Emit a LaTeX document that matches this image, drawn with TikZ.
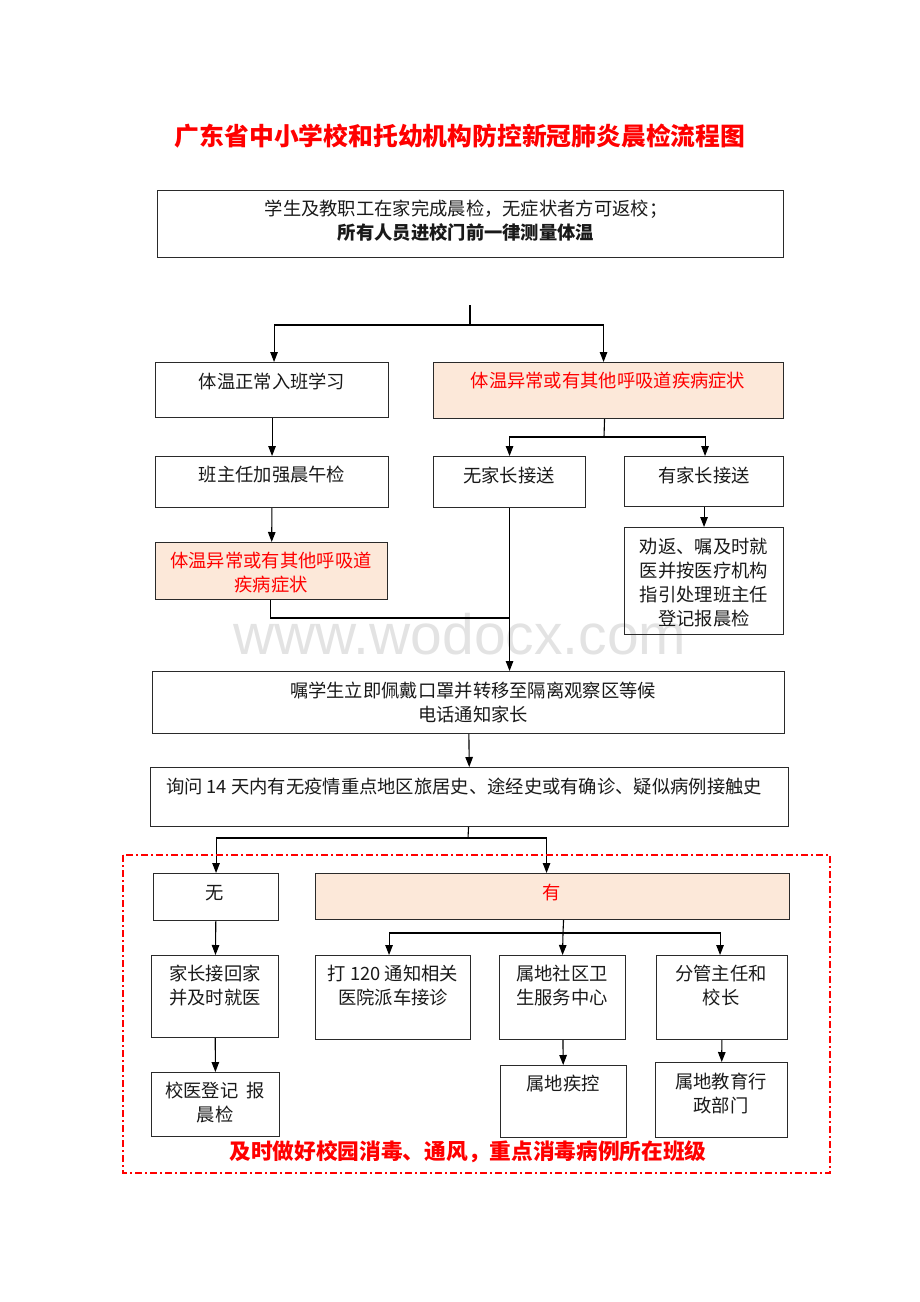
\documentclass[tikz,border=0pt]{standalone}
\usepackage{fontspec}
\setmainfont{Noto Sans CJK SC}
\newfontfamily\wmfont{Liberation Sans}
\usetikzlibrary{arrows.meta}

\definecolor{peach}{HTML}{FCE8D9}
\definecolor{edge}{HTML}{2A2A2A}

\tikzset{
  box/.style={draw=edge, line width=1.1pt, inner sep=0pt, anchor=north west},
  warn/.style={box, fill=peach},
  txt/.style={font=\fontsize{18.3}{24}\selectfont, align=center, inner sep=0pt, text=black!90},
  redtxt/.style={txt, text=red},
  ln/.style={draw=black, line width=1.1pt},
  arr/.style={ln, -{Triangle[length=10pt,width=7.5pt]}},
}

\begin{document}
\begin{tikzpicture}[x=1pt, y=-1pt]
\useasboundingbox (0,0) rectangle (920,1302);

% title and watermark
\node[text=red, font=\fontsize{24.8}{28}\selectfont\bfseries] (title) at (460,136) {广东省中小学校和托幼机构防控新冠肺炎晨检流程图};
\node[text=black!11, font=\wmfont\fontsize{57}{60}\selectfont] (mark) at (460,634) {www.wodocx.com};

% boxes
\node[box, minimum width=626, minimum height=67] (start) at (157,190) {};
\node[box, minimum width=233, minimum height=55] (normal) at (155,362) {};
\node[warn, minimum width=350, minimum height=56] (abn) at (433,362) {};
\node[box, minimum width=233, minimum height=51] (recheck) at (155,456) {};
\node[box, minimum width=152, minimum height=51] (nopar) at (433,456) {};
\node[box, minimum width=159, minimum height=50] (haspar) at (624,456) {};
\node[box, minimum width=159, minimum height=107] (advise) at (624,527) {};
\node[warn, minimum width=232, minimum height=57] (abn2) at (155,542) {};
\node[box, minimum width=632, minimum height=62] (isolate) at (152,671) {};
\node[box, minimum width=638, minimum height=59] (ask) at (150,767) {};
\node[box, minimum width=125, minimum height=47] (none) at (153,873) {};
\node[warn, minimum width=474, minimum height=46] (yes) at (315,873) {};
\node[box, minimum width=127, minimum height=82] (home) at (151,955) {};
\node[box, minimum width=155, minimum height=84] (call) at (315,955) {};
\node[box, minimum width=126, minimum height=84] (cmty) at (499,955) {};
\node[box, minimum width=131, minimum height=84] (lead) at (656,955) {};
\node[box, minimum width=128, minimum height=64] (regist) at (151,1072) {};
\node[box, minimum width=126, minimum height=72] (cdc) at (500,1065) {};
\node[box, minimum width=132, minimum height=75] (edu) at (655,1062) {};

% texts
\node[txt] (t-start) at (466,221) {学生及教职工在家完成晨检，无症状者方可返校；\\{\bfseries 所有人员进校门前一律测量体温}};
\node[txt] (t-normal) at (272,381) {体温正常入班学习};
\node[redtxt] (t-abn) at (608,381) {体温异常或有其他呼吸道疾病症状};
\node[txt] (t-recheck) at (272,475) {班主任加强晨午检};
\node[txt] (t-nopar) at (509,475) {无家长接送};
\node[txt] (t-haspar) at (704,475) {有家长接送};
\node[txt] (t-advise) at (704,583) {劝返、嘱及时就\\医并按医疗机构\\指引处理班主任\\登记报晨检};
\node[redtxt] (t-abn2) at (271,573) {体温异常或有其他呼吸道\\疾病症状};
\node[txt] (t-isolate) at (473,702) {嘱学生立即佩戴口罩并转移至隔离观察区等候\\电话通知家长};
\node[txt] (t-ask) at (464,786) {询问 14 天内有无疫情重点地区旅居史、途经史或有确诊、疑似病例接触史};
\node[txt] (t-none) at (215,893) {无};
\node[redtxt] (t-yes) at (552,893) {有};
\node[txt] (t-home) at (215,986) {家长接回家\\并及时就医};
\node[txt] (t-call) at (393,986) {打 120 通知相关\\医院派车接诊};
\node[txt] (t-cmty) at (562,986) {属地社区卫\\生服务中心};
\node[txt] (t-lead) at (721,986) {分管主任和\\校长};
\node[txt] (t-regist) at (215,1103) {校医登记\ \ 报\\晨检};
\node[txt] (t-cdc) at (563,1084) {属地疾控};
\node[txt] (t-edu) at (721,1093) {属地教育行\\政部门};

% branch points
\coordinate (top) at (470,305);
\coordinate (split1) at (470,325);
\coordinate (split2) at (604,437);
\coordinate (join) at (509,618);
\coordinate (split3) at (468,838);
\coordinate (split4) at (563,933);

% connectors
\draw[ln] (top) -- (split1);
\draw[arr] (split1) -| ([xshift=2pt]normal.north);
\draw[arr] (split1) -| ([xshift=-5pt]abn.north);
\draw[ln] ([xshift=-4pt]abn.south) -- (split2);
\draw[arr] (split2) -| (nopar.north);
\draw[arr] (split2) -| ([xshift=1pt]haspar.north);
\draw[arr] (haspar) -- (advise);
\draw[arr] (normal) -- (recheck);
\draw[arr] (recheck) -- (abn2);
\draw[ln] ([xshift=-1pt]abn2.south) |- (join);
\draw[arr] (nopar.south) -- (nopar.south |- isolate.north);
\draw[arr] (isolate) -- (ask);
\draw[ln] ([xshift=-1pt]ask.south) -- (split3);
\draw[arr] (split3) -| (none.north);
\draw[arr] (split3) -| ([xshift=-6pt]yes.north);
\draw[ln] ([xshift=11pt]yes.south) -- (split4);
\draw[arr] (split4) -| ([xshift=-4pt]call.north);
\draw[arr] (split4) -- (cmty.north);
\draw[arr] (split4) -| ([xshift=-2pt]lead.north);
\draw[arr] (none) -- (home);
\draw[arr] (home) -- (regist);
\draw[arr] (cmty) -- (cdc);
\draw[arr] (lead) -- (edu);

% dash-dot frame
\draw[red, line width=1.4pt, dash pattern=on 7pt off 3pt on 2pt off 3pt] (123,855) rectangle (830,1173);
\node[text=red, font=\fontsize{21.7}{24}\selectfont\bfseries] (note) at (468,1152) {及时做好校园消毒、通风，重点消毒病例所在班级};
\end{tikzpicture}
\end{document}
